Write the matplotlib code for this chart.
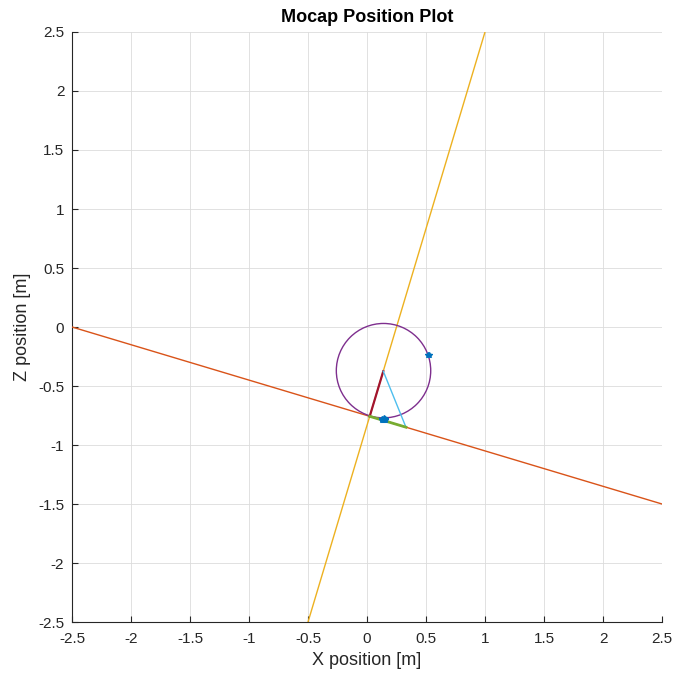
import matplotlib
matplotlib.use("Agg")
import matplotlib.pyplot as plt
from matplotlib.patches import Circle

plt.rcParams['font.family'] = ['Liberation Sans', 'DejaVu Sans']

# Data
tick_vals = [-2.5, -2, -1.5, -1, -0.5, 0, 0.5, 1, 1.5, 2, 2.5]
tick_labels = ['-2.5', '-2', '-1.5', '-1', '-0.5', '0', '0.5', '1', '1.5', '2', '2.5']

line1_x = [-0.5, 1.0]          # yellow-orange line
line1_z = [-2.5, 2.5]
line2_x = [-2.5, 2.5]          # red-orange line
line2_z = [0.0, -1.5]

circle_center = (0.14, -0.37)
circle_radius = 0.40

red_seg_x = [0.138, 0.023]
red_seg_z = [-0.375, -0.757]
cyan_seg_x = [0.138, 0.33]
cyan_seg_z = [-0.375, -0.849]
green_seg_x = [0.023, 0.33]
green_seg_z = [-0.757, -0.849]

marker_x = [0.13, 0.14, 0.15, 0.135, 0.145, 0.125, 0.155]
marker_z = [-0.78, -0.785, -0.78, -0.79, -0.775, -0.785, -0.79]
marker2_x = [0.525, 0.52]
marker2_z = [-0.235, -0.24]

fig = plt.figure(figsize=(6.76, 6.75), dpi=100)
ax = fig.add_axes([0.1065, 0.0785, 0.8728, 0.8741])

ax.plot(line1_x, line1_z, color='#EDB120', lw=1.0, zorder=3)
ax.plot(line2_x, line2_z, color='#D95319', lw=1.0, zorder=3)
ax.add_patch(Circle(circle_center, circle_radius, fill=False, edgecolor='#7E2F8E', lw=1.0, zorder=4))
ax.plot(red_seg_x, red_seg_z, color='#A2142F', lw=1.6, zorder=5)
ax.plot(cyan_seg_x, cyan_seg_z, color='#4DBEEE', lw=1.0, zorder=5)
ax.plot(green_seg_x, green_seg_z, color='#77AC30', lw=2.0, zorder=5)
ax.plot(marker_x, marker_z, linestyle='none', marker='*', color='#0072BD', ms=4, zorder=6)
ax.plot(marker2_x, marker2_z, linestyle='none', marker='*', color='#0072BD', ms=4, zorder=6)

ax.set_xlim(-2.5, 2.5)
ax.set_ylim(-2.5, 2.5)
ax.set_xticks(tick_vals)
ax.set_xticklabels(tick_labels)
ax.set_yticks(tick_vals)
ax.set_yticklabels(tick_labels)
ax.tick_params(direction='in', length=4, width=0.8, labelsize=11, colors='#262626')
ax.tick_params(axis='x', pad=7.5)
ax.tick_params(axis='y', pad=5.5)
ax.grid(True, color='#dcdcdc', lw=0.6)
ax.set_axisbelow(True)
for s in ['top', 'right']:
    ax.spines[s].set_visible(False)
for s in ['left', 'bottom']:
    ax.spines[s].set_color('#262626')
    ax.spines[s].set_linewidth(0.8)

ax.set_xlabel('X position [m]', fontsize=13, color='#262626', labelpad=4)
ax.set_ylabel('Z position [m]', fontsize=13, color='#262626', labelpad=5)
ax.set_title('Mocap Position Plot', fontsize=13, fontweight='bold', pad=7)

fig.savefig('out.png', dpi=100)
